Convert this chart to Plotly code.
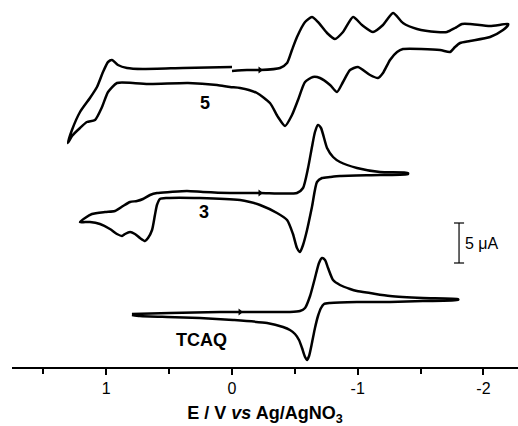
import plotly.graph_objects as go

# ---------------- data (E in V, I in uA relative to each curve's baseline) -------------
tcaq_E = [0.796, 0.493, 0.095, -0.064, -0.223, -0.461, -0.541, -0.581, -0.621, -0.660, -0.692,
          -0.716, -0.740, -0.764, -0.804, -0.859, -0.939, -0.994, -1.098, -1.257, -1.519, -1.798,
          -1.798, -1.519, -1.257, -0.994, -0.780, -0.732, -0.708, -0.684, -0.660, -0.636, -0.613,
          -0.597, -0.581, -0.557, -0.533, -0.501, -0.461, -0.406, -0.279, -0.008, 0.255, 0.517,
          0.732, 0.796]
tcaq_I = [-0.25, -0.125, 0, 0, 0, 0, 0.125, 0.5, 2.0, 4.25, 6.125,
          6.75, 6.5, 5.5, 4.0, 3.375, 2.875, 2.625, 2.375, 2.0, 1.75, 1.625,
          1.5, 1.375, 1.25, 1.25, 1.125, 1.0, 0.5, -0.5, -2.0, -3.875, -5.5,
          -6.0, -5.625, -4.5, -3.5, -2.75, -2.25, -1.875, -1.375, -1.0, -0.75, -0.625,
          -0.5, -0.375]
tcaq_arrow_idx = 3

c3_E = [1.209, 1.169, 1.114, 1.010, 0.931, 0.867, 0.811, 0.756, 0.708, 0.652, 0.597, 0.493,
        0.358, 0.231, 0.016, -0.223, -0.517, -0.565, -0.605, -0.636, -0.660, -0.684, -0.708,
        -0.756, -0.804, -0.859, -0.994, -1.177, -1.400,
        -1.400, -1.177, -0.859, -0.780, -0.716, -0.676, -0.636, -0.597, -0.565, -0.541, -0.517,
        -0.485, -0.438, -0.358, -0.223, -0.143, -0.064, 0.255, 0.517, 0.573, 0.597, 0.613,
        0.636, 0.668, 0.692, 0.732, 0.772, 0.811, 0.851, 0.875, 0.915, 0.971, 1.050, 1.130,
        1.209]
c3_I = [-3.625, -3.125, -2.625, -2.375, -2.25, -1.625, -1.125, -1.0, -0.75, -0.25, 0, 0.125,
        0.25, 0.125, 0, 0, 0, 0.625, 3.125, 5.75, 7.625, 8.5, 8.125,
        5.625, 4.5, 3.875, 3.125, 2.625, 2.5,
        2.375, 2.25, 2.125, 2.0, 1.875, 1.375, -1.75, -4.625, -6.5, -7.375, -6.875,
        -5.125, -3.375, -2.5, -1.5, -1.125, -0.875, -0.625, -0.625, -0.75, -1.5, -2.75,
        -4.625, -5.625, -6.0, -5.625, -5.125, -4.875, -5.125, -5.375, -5.125, -4.5, -3.875, -3.625,
        -3.625]
c3_arrow_idx = 15

c5_E = [0.0, -0.119, -0.223, -0.382, -0.438, -0.477, -0.517, -0.581, -0.636, -0.684, -0.756,
        -0.819, -0.883, -0.963, -1.034, -1.122, -1.201, -1.281, -1.360, -1.472, -1.631, -1.710,
        -1.774, -1.830, -1.893, -2.053, -2.196,
        -2.196, -2.156, -2.053, -1.893, -1.814, -1.774, -1.734, -1.655, -1.360, -1.313, -1.257,
        -1.201, -1.161, -1.098, -1.002, -0.939, -0.883, -0.835, -0.780, -0.700, -0.644, -0.581,
        -0.525, -0.477, -0.422, -0.366, -0.302, -0.199, -0.064, 0.016, 0.119, 0.350, 0.652,
        0.788, 0.915, 0.986, 1.034, 1.090, 1.154, 1.209, 1.273, 1.305,
        1.273, 1.209, 1.130, 1.074, 1.026, 0.986, 0.955, 0.907, 0.835, 0.708, 0.390, 0.0]
c5_I = [-0.375, -0.25, -0.25, 0, 0.625, 2.25, 3.875, 5.75, 6.375, 5.75, 4.375,
        3.625, 4.5, 6.375, 5.375, 4.5, 5.375, 6.875, 5.625, 4.875, 4.5, 4.5,
        5.0, 5.5, 5.5, 5.25, 5.5,
        5.375, 4.75, 3.875, 3.375, 3.125, 2.625, 2.0, 2.25, 2.375, 2.0, 1.0,
        -0.625, -1.25, -0.875, 0.125, -0.25, -1.75, -3.0, -2.125, -1.25, -1.125, -1.75,
        -4.0, -5.875, -7.25, -6.125, -4.375, -3.125, -2.5, -2.375, -2.125, -1.875, -2.0,
        -1.875, -1.875, -3.0, -4.875, -6.5, -6.75, -7.5, -8.5, -9.375,
        -7.75, -5.5, -3.75, -2.375, -0.5, 0.75, 1.0, 0.375, 0, -0.125, 0, 0.125]
c5_arrow_idx = 2

curve_names = ["TCAQ", "3", "5"]
curve_offsets = [6.875, 21.75, 37.375]          # vertical stacking (uA)
label_pos = [(0.239, 3.375), (0.223, 19.375), (0.215, 33.0)]

x_tickvals = [1, 0, -1, -2]
x_ticktext = ["1", "0", "-1", "-2"]
x_minor = [1.5, 0.5, -0.5, -1.5]

scalebar_E = -1.806
scalebar_I = (13.0, 18.0)                        # 5 uA

FONT = "Liberation Sans, Arial, sans-serif"

fig = go.Figure()
curves = [(tcaq_E, tcaq_I, tcaq_arrow_idx), (c3_E, c3_I, c3_arrow_idx), (c5_E, c5_I, c5_arrow_idx)]
for (E, I, ai), off in zip(curves, curve_offsets):
    Y = [v + off for v in I]
    fig.add_trace(go.Scatter(x=E, y=Y, mode="lines",
                             line=dict(color="black", width=2.5, shape="spline", smoothing=0.6),
                             showlegend=False, hoverinfo="skip"))
    fig.add_trace(go.Scatter(x=[E[ai]], y=[Y[ai]], mode="markers",
                             marker=dict(symbol="triangle-right", size=6, color="black"),
                             showlegend=False, hoverinfo="skip"))

for name, (lx, ly) in zip(curve_names, label_pos):
    fig.add_annotation(x=lx, y=ly, text="<b>%s</b>" % name, showarrow=False,
                       font=dict(family=FONT, size=18, color="black"))

# scale bar
cap = 0.04
fig.add_shape(type="line", x0=scalebar_E, x1=scalebar_E, y0=scalebar_I[0], y1=scalebar_I[1],
              line=dict(color="black", width=1.2))
for yy in scalebar_I:
    fig.add_shape(type="line", x0=scalebar_E + cap, x1=scalebar_E - cap, y0=yy, y1=yy,
                  line=dict(color="black", width=1.2))
fig.add_annotation(x=scalebar_E - 0.035, y=(scalebar_I[0] + scalebar_I[1]) / 2, text="5 \u03bcA",
                   showarrow=False, xanchor="left", font=dict(family=FONT, size=16, color="black"))

fig.update_layout(
    width=518, height=426,
    margin=dict(l=12, r=0, t=0, b=59),
    paper_bgcolor="white", plot_bgcolor="white",
    font=dict(family=FONT, color="black"),
    xaxis=dict(range=[1.75, -2.275], tickvals=x_tickvals, ticktext=x_ticktext,
               ticks="outside", ticklen=6, tickwidth=1.5, tickcolor="black",
               minor=dict(tickvals=x_minor, ticks="outside", ticklen=5, tickwidth=1.5, tickcolor="black"),
               showline=True, linecolor="black", linewidth=1.5, showgrid=False, zeroline=False,
               tickfont=dict(family=FONT, size=16, color="black"),
               title=dict(text="<b>E / V <i>vs</i> Ag/AgNO<sub>3</sub></b>",
                          font=dict(family=FONT, size=18, color="black"), standoff=11)),
    yaxis=dict(range=[0, 45.875], visible=False),
)

fig.write_html("out.html")
